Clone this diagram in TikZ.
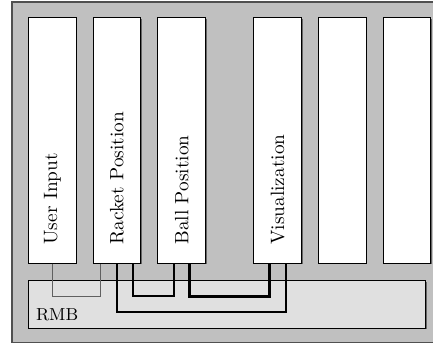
\documentclass[tikz,border=0pt]{standalone}
\usepackage{tikz}
\usetikzlibrary{positioning, shadows, calc}
\definecolor{colChassis}{HTML}{C0C0C0}
\definecolor{colBus}    {HTML}{E0E0E0}
\definecolor{colEdge}   {HTML}{505050}
\definecolor{colWire}   {HTML}{606060}
\tikzset{
  board/.style={
    draw=black, fill=white, line width=0.5pt,
    minimum width=24.7pt, minimum height=127.3pt, inner sep=0pt,
    drop shadow={shadow xshift=0.6pt, shadow yshift=-0.6pt,
                 fill=black!60, opacity=1}
  },
  boardlabel/.style={rotate=90, anchor=west, inner sep=0pt},
  bus/.style={
    draw=black, fill=colBus, line width=0.5pt,
    minimum width=205.7pt, minimum height=24.5pt, inner sep=0pt,
    drop shadow={shadow xshift=0.6pt, shadow yshift=-0.6pt,
                 fill=black!60, opacity=1}
  },
  chassis/.style={draw=colEdge, line width=0.6pt},
  thinwire/.style ={draw=colWire, line width=0.5pt},
  wire/.style     ={draw=black, line width=1pt},
  heavywire/.style={draw=black, line width=1.6pt}
}

\begin{document}
\begin{tikzpicture}[node distance=8.3pt]
  \useasboundingbox (0,0) rectangle (224.3pt,-178.2pt);
  % chassis (runs off the right edge)
  \fill[colChassis] (6.2pt,-1pt) rectangle (224.3pt,-177.3pt);
  \draw[chassis] (224.3pt,-1pt) -- (6.2pt,-1pt) -- (6.2pt,-177.3pt) -- (224.3pt,-177.3pt);
  % boards
  \node[board, anchor=north west] (user) at (14.5pt,-8.8pt) {};
  \node[board, right=of user]     (racket) {};
  \node[board, right=of racket]   (ball)   {};
  \node[board, right=24.5pt of ball] (vis) {};
  \node[board, right=of vis]      (spareA) {};
  \node[board, right=of spareA]   (spareB) {};
  \node[boardlabel] (userlbl)   at ([yshift=9.7pt]user.south)   {User Input};
  \node[boardlabel] (racketlbl) at ([yshift=9.7pt]racket.south) {Racket Position};
  \node[boardlabel] (balllbl)   at ([yshift=9.7pt]ball.south)   {Ball Position};
  \node[boardlabel] (vislbl)    at ([yshift=9.7pt]vis.south)    {Visualization};
  % backplane
  \node[bus, anchor=north west] (rmb) at ([yshift=-8.6pt]user.south west) {};
  \node[anchor=south west, inner sep=4pt, font=\small] (rmblbl) at (rmb.south west) {RMB};
  % wiring
  \draw[thinwire] (user.south) -- ++(0,-16.9pt) -| ([xshift=-8.3pt]racket.south);
  \draw[wire] ([xshift=8.3pt]racket.south) -- ++(0,-16.9pt) -| ([xshift=-4.15pt]ball.south);
  \draw[wire] (racket.south) -- ++(0,-25pt) -| ([xshift=4.15pt]vis.south);
  \draw[heavywire] ([xshift=4.15pt]ball.south) -- ++(0,-16.9pt) -| ([xshift=-4.15pt]vis.south);
\end{tikzpicture}
\end{document}
